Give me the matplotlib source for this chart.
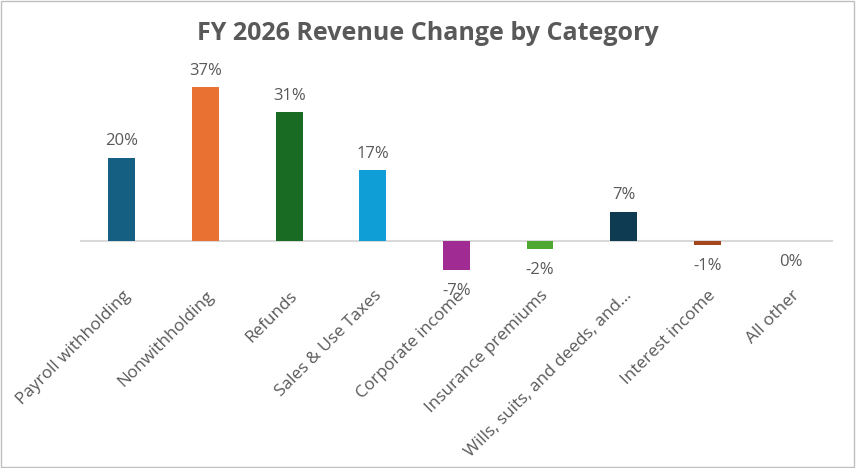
import matplotlib
matplotlib.use("Agg")
import matplotlib.pyplot as plt
import matplotlib.transforms as mtransforms
from matplotlib.patches import Rectangle

# chart data
categories = ["Payroll withholding", "Nonwithholding", "Refunds", "Sales & Use Taxes",
              "Corporate income", "Insurance premiums", "Wills, suits, and deeds, and...",
              "Interest income", "All other"]
changes = [20, 37, 31, 17, -7, -2, 7, -1, 0]
bar_colors = ["#156082", "#E97132", "#196B24", "#0F9ED5", "#A02B93",
              "#4EA72E", "#0E3A52", "#A6461C", "#14501C"]

plt.rcParams['font.family'] = ['Open Sans', 'DejaVu Sans']
text_grey = "#595959"

fig = plt.figure(figsize=(8.56, 4.68), dpi=100)
ax = fig.add_axes([0.0935, 0.397, 0.8795, 0.443])

x = list(range(len(categories)))
ax.bar(x, changes, width=0.32, color=bar_colors)
ax.axhline(0, color="#D9D9D9", lw=1.5, zorder=0)

# data labels above positive bars, below negative/zero
for xi, v in zip(x, changes):
    off = 12 if v > 0 else -15
    ax.annotate(f"{v}%", (xi, v), xytext=(0, off), textcoords="offset points",
                ha="center", va="center", fontsize=12, color=text_grey)

ax.set_xlim(-0.5, len(categories) - 0.5)
ax.set_ylim(-10, 40)
ax.set_yticks([])
ax.set_xticks(x)
ax.set_xticklabels(categories, rotation=45, ha="right", va="center",
                   rotation_mode="anchor", fontsize=12.3, color=text_grey)
ax.tick_params(axis="x", length=0, pad=8)
shift = mtransforms.ScaledTranslation(0.06, 0, fig.dpi_scale_trans)
for lbl in ax.get_xticklabels():
    lbl.set_transform(lbl.get_transform() + shift)
for s in ax.spines.values():
    s.set_visible(False)

fig.text(0.5, 0.929, "FY 2026 Revenue Change by Category", ha="center", va="center",
         fontsize=18, fontweight="bold", color=text_grey)

# light chart border
fig.patches.append(Rectangle((0.001, 0.002), 0.997, 0.996, transform=fig.transFigure,
                             fill=False, edgecolor="#BFBFBF", lw=1))

fig.savefig("out.png", dpi=100)
